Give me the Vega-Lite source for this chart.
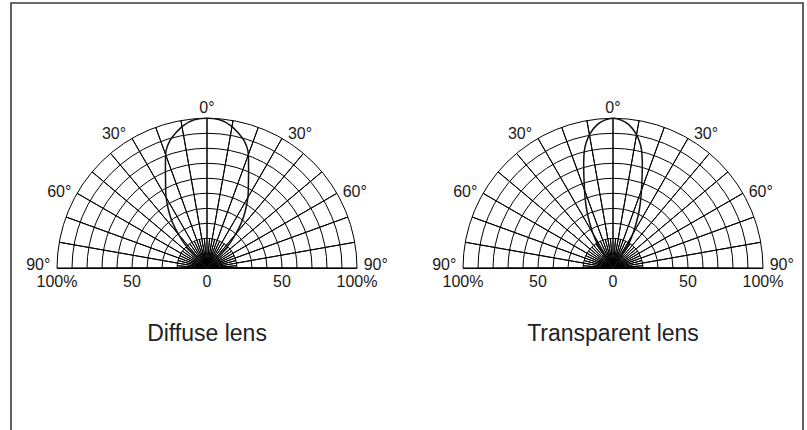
{
  "$schema": "https://vega.github.io/schema/vega-lite/v6.json",
  "width": 792,
  "height": 440,
  "autosize": {"type": "none"},
  "padding": {"left": 11, "top": 3, "right": 4, "bottom": 0},
  "background": "white",
  "config": {
    "view": {"stroke": "#3a3a3a", "strokeWidth": 1.6},
    "text": {"font": "Liberation Sans"}
  },
  "encoding": {
    "x": {"field": "lens", "type": "nominal", "scale": {"type": "point", "domain": ["Diffuse lens", "Transparent lens"], "range": [196, 602], "padding": 0}, "axis": null}
  },
  "layer": [
    {
      "data": {"values": [
        {"r": 10, "lens": ["Diffuse lens", "Transparent lens"]},
        {"r": 20, "lens": ["Diffuse lens", "Transparent lens"]},
        {"r": 30, "lens": ["Diffuse lens", "Transparent lens"]},
        {"r": 40, "lens": ["Diffuse lens", "Transparent lens"]},
        {"r": 50, "lens": ["Diffuse lens", "Transparent lens"]},
        {"r": 60, "lens": ["Diffuse lens", "Transparent lens"]},
        {"r": 70, "lens": ["Diffuse lens", "Transparent lens"]},
        {"r": 80, "lens": ["Diffuse lens", "Transparent lens"]},
        {"r": 90, "lens": ["Diffuse lens", "Transparent lens"]},
        {"r": 100, "lens": ["Diffuse lens", "Transparent lens"]}
      ]},
      "transform": [{"flatten": ["lens"]}],
      "mark": {"type": "arc", "filled": false, "stroke": "black", "strokeWidth": 1},
      "encoding": {
        "y": {"datum": 0, "type": "quantitative", "scale": {"domain": [-116.5, 176.9], "nice": false, "zero": false}, "axis": null},
        "theta": {"datum": -90, "type": "quantitative", "scale": {"domain": [-90, 90], "range": [-1.5707963, 1.5707963]}},
        "theta2": {"datum": 90},
        "radius": {"field": "r", "type": "quantitative", "scale": {"type": "linear", "domain": [0, 100], "range": [0, 150], "zero": true}},
        "radius2": {"datum": 0}
      }
    },
    {
      "data": {"values": [
        {"a": -90, "lens": ["Diffuse lens", "Transparent lens"]},
        {"a": -80, "lens": ["Diffuse lens", "Transparent lens"]},
        {"a": -70, "lens": ["Diffuse lens", "Transparent lens"]},
        {"a": -60, "lens": ["Diffuse lens", "Transparent lens"]},
        {"a": -50, "lens": ["Diffuse lens", "Transparent lens"]},
        {"a": -40, "lens": ["Diffuse lens", "Transparent lens"]},
        {"a": -30, "lens": ["Diffuse lens", "Transparent lens"]},
        {"a": -20, "lens": ["Diffuse lens", "Transparent lens"]},
        {"a": -10, "lens": ["Diffuse lens", "Transparent lens"]},
        {"a": 0, "lens": ["Diffuse lens", "Transparent lens"]},
        {"a": 10, "lens": ["Diffuse lens", "Transparent lens"]},
        {"a": 20, "lens": ["Diffuse lens", "Transparent lens"]},
        {"a": 30, "lens": ["Diffuse lens", "Transparent lens"]},
        {"a": 40, "lens": ["Diffuse lens", "Transparent lens"]},
        {"a": 50, "lens": ["Diffuse lens", "Transparent lens"]},
        {"a": 60, "lens": ["Diffuse lens", "Transparent lens"]},
        {"a": 70, "lens": ["Diffuse lens", "Transparent lens"]},
        {"a": 80, "lens": ["Diffuse lens", "Transparent lens"]},
        {"a": 90, "lens": ["Diffuse lens", "Transparent lens"]}
      ]},
      "transform": [{"flatten": ["lens"]}],
      "mark": {"type": "arc", "filled": false, "stroke": "black", "strokeWidth": 1},
      "encoding": {
        "y": {"datum": 0, "type": "quantitative", "scale": {"domain": [-116.5, 176.9], "nice": false, "zero": false}, "axis": null},
        "theta": {"field": "a", "type": "quantitative", "stack": null, "scale": {"domain": [-90, 90], "range": [-1.5707963, 1.5707963]}},
        "theta2": {"field": "a"},
        "radius": {"datum": 100, "type": "quantitative", "scale": {"type": "linear", "domain": [0, 100], "range": [0, 150], "zero": true}},
        "radius2": {"datum": 0}
      }
    },
    {
      "data": {"values": [
        {"a": -85, "lens": ["Diffuse lens", "Transparent lens"]},
        {"a": -75, "lens": ["Diffuse lens", "Transparent lens"]},
        {"a": -65, "lens": ["Diffuse lens", "Transparent lens"]},
        {"a": -55, "lens": ["Diffuse lens", "Transparent lens"]},
        {"a": -45, "lens": ["Diffuse lens", "Transparent lens"]},
        {"a": -35, "lens": ["Diffuse lens", "Transparent lens"]},
        {"a": -25, "lens": ["Diffuse lens", "Transparent lens"]},
        {"a": -15, "lens": ["Diffuse lens", "Transparent lens"]},
        {"a": -5, "lens": ["Diffuse lens", "Transparent lens"]},
        {"a": 5, "lens": ["Diffuse lens", "Transparent lens"]},
        {"a": 15, "lens": ["Diffuse lens", "Transparent lens"]},
        {"a": 25, "lens": ["Diffuse lens", "Transparent lens"]},
        {"a": 35, "lens": ["Diffuse lens", "Transparent lens"]},
        {"a": 45, "lens": ["Diffuse lens", "Transparent lens"]},
        {"a": 55, "lens": ["Diffuse lens", "Transparent lens"]},
        {"a": 65, "lens": ["Diffuse lens", "Transparent lens"]},
        {"a": 75, "lens": ["Diffuse lens", "Transparent lens"]},
        {"a": 85, "lens": ["Diffuse lens", "Transparent lens"]}
      ]},
      "transform": [{"flatten": ["lens"]}],
      "mark": {"type": "arc", "filled": false, "stroke": "black", "strokeWidth": 1},
      "encoding": {
        "y": {"datum": 0, "type": "quantitative", "scale": {"domain": [-116.5, 176.9], "nice": false, "zero": false}, "axis": null},
        "theta": {"field": "a", "type": "quantitative", "stack": null, "scale": {"domain": [-90, 90], "range": [-1.5707963, 1.5707963]}},
        "theta2": {"field": "a"},
        "radius": {"datum": 20, "type": "quantitative", "scale": {"type": "linear", "domain": [0, 100], "range": [0, 150], "zero": true}},
        "radius2": {"datum": 0}
      }
    },
    {
      "data": {"values": [
        {"lens": "Diffuse lens", "i": 0, "dx": 0, "dy": 0},
        {"lens": "Diffuse lens", "i": 1, "dx": -5, "dy": 5.2},
        {"lens": "Diffuse lens", "i": 2, "dx": -10.5, "dy": 11},
        {"lens": "Diffuse lens", "i": 3, "dx": -15, "dy": 16.3},
        {"lens": "Diffuse lens", "i": 4, "dx": -18.8, "dy": 22.2},
        {"lens": "Diffuse lens", "i": 5, "dx": -22.9, "dy": 30.3},
        {"lens": "Diffuse lens", "i": 6, "dx": -25.4, "dy": 37.7},
        {"lens": "Diffuse lens", "i": 7, "dx": -27.3, "dy": 47.6},
        {"lens": "Diffuse lens", "i": 8, "dx": -27.6, "dy": 56.6},
        {"lens": "Diffuse lens", "i": 9, "dx": -27.7, "dy": 68.6},
        {"lens": "Diffuse lens", "i": 10, "dx": -27.2, "dy": 78.8},
        {"lens": "Diffuse lens", "i": 11, "dx": -24.8, "dy": 85},
        {"lens": "Diffuse lens", "i": 12, "dx": -20.9, "dy": 90.2},
        {"lens": "Diffuse lens", "i": 13, "dx": -15.8, "dy": 95.2},
        {"lens": "Diffuse lens", "i": 14, "dx": -8.5, "dy": 99},
        {"lens": "Diffuse lens", "i": 15, "dx": 0, "dy": 100},
        {"lens": "Diffuse lens", "i": 16, "dx": 8.5, "dy": 99},
        {"lens": "Diffuse lens", "i": 17, "dx": 15.8, "dy": 95.2},
        {"lens": "Diffuse lens", "i": 18, "dx": 20.9, "dy": 90.2},
        {"lens": "Diffuse lens", "i": 19, "dx": 24.8, "dy": 85},
        {"lens": "Diffuse lens", "i": 20, "dx": 27.2, "dy": 78.8},
        {"lens": "Diffuse lens", "i": 21, "dx": 27.7, "dy": 68.6},
        {"lens": "Diffuse lens", "i": 22, "dx": 27.6, "dy": 56.6},
        {"lens": "Diffuse lens", "i": 23, "dx": 27.3, "dy": 47.6},
        {"lens": "Diffuse lens", "i": 24, "dx": 25.4, "dy": 37.7},
        {"lens": "Diffuse lens", "i": 25, "dx": 22.9, "dy": 30.3},
        {"lens": "Diffuse lens", "i": 26, "dx": 18.8, "dy": 22.2},
        {"lens": "Diffuse lens", "i": 27, "dx": 15, "dy": 16.3},
        {"lens": "Diffuse lens", "i": 28, "dx": 10.5, "dy": 11},
        {"lens": "Diffuse lens", "i": 29, "dx": 5, "dy": 5.2},
        {"lens": "Diffuse lens", "i": 30, "dx": 0, "dy": 0},
        {"lens": "Transparent lens", "i": 0, "dx": 0, "dy": 0},
        {"lens": "Transparent lens", "i": 1, "dx": -5.5, "dy": 8.5},
        {"lens": "Transparent lens", "i": 2, "dx": -10.5, "dy": 16.5},
        {"lens": "Transparent lens", "i": 3, "dx": -13.3, "dy": 23},
        {"lens": "Transparent lens", "i": 4, "dx": -15.6, "dy": 30.5},
        {"lens": "Transparent lens", "i": 5, "dx": -17.5, "dy": 38.7},
        {"lens": "Transparent lens", "i": 6, "dx": -18.6, "dy": 47},
        {"lens": "Transparent lens", "i": 7, "dx": -19.2, "dy": 56.4},
        {"lens": "Transparent lens", "i": 8, "dx": -19.5, "dy": 65},
        {"lens": "Transparent lens", "i": 9, "dx": -19.5, "dy": 72},
        {"lens": "Transparent lens", "i": 10, "dx": -19, "dy": 79},
        {"lens": "Transparent lens", "i": 11, "dx": -17.8, "dy": 84},
        {"lens": "Transparent lens", "i": 12, "dx": -15.3, "dy": 89.8},
        {"lens": "Transparent lens", "i": 13, "dx": -10.5, "dy": 95.8},
        {"lens": "Transparent lens", "i": 14, "dx": -5.5, "dy": 98.8},
        {"lens": "Transparent lens", "i": 15, "dx": 0, "dy": 100},
        {"lens": "Transparent lens", "i": 16, "dx": 5.5, "dy": 98.8},
        {"lens": "Transparent lens", "i": 17, "dx": 10.5, "dy": 95.8},
        {"lens": "Transparent lens", "i": 18, "dx": 15.3, "dy": 89.8},
        {"lens": "Transparent lens", "i": 19, "dx": 17.8, "dy": 84},
        {"lens": "Transparent lens", "i": 20, "dx": 19, "dy": 79},
        {"lens": "Transparent lens", "i": 21, "dx": 19.5, "dy": 72},
        {"lens": "Transparent lens", "i": 22, "dx": 19.5, "dy": 65},
        {"lens": "Transparent lens", "i": 23, "dx": 19.2, "dy": 56.4},
        {"lens": "Transparent lens", "i": 24, "dx": 18.6, "dy": 47},
        {"lens": "Transparent lens", "i": 25, "dx": 17.5, "dy": 38.7},
        {"lens": "Transparent lens", "i": 26, "dx": 15.6, "dy": 30.5},
        {"lens": "Transparent lens", "i": 27, "dx": 13.3, "dy": 23},
        {"lens": "Transparent lens", "i": 28, "dx": 10.5, "dy": 16.5},
        {"lens": "Transparent lens", "i": 29, "dx": 5.5, "dy": 8.5},
        {"lens": "Transparent lens", "i": 30, "dx": 0, "dy": 0}
      ]},
      "mark": {"type": "line", "color": "#111111", "strokeWidth": 1.5, "interpolate": "catmull-rom"},
      "encoding": {
        "xOffset": {"field": "dx", "type": "quantitative", "scale": {"type": "linear", "domain": [-100, 100], "range": [-150, 150], "zero": false, "nice": false}},
        "y": {"field": "dy", "type": "quantitative", "scale": {"domain": [-116.5, 176.9], "nice": false, "zero": false}, "axis": null},
        "detail": {"field": "lens"},
        "order": {"field": "i", "type": "quantitative"}
      }
    },
    {
      "data": {"values": [
        {"t": "0°", "dx": 0, "dy": 106.7, "lens": ["Diffuse lens", "Transparent lens"]},
        {"t": "30°", "dx": -62, "dy": 89.3, "lens": ["Diffuse lens", "Transparent lens"]},
        {"t": "30°", "dx": 62, "dy": 89.3, "lens": ["Diffuse lens", "Transparent lens"]},
        {"t": "60°", "dx": -98.5, "dy": 51, "lens": ["Diffuse lens", "Transparent lens"]},
        {"t": "60°", "dx": 98.5, "dy": 51, "lens": ["Diffuse lens", "Transparent lens"]},
        {"t": "90°", "dx": -112.5, "dy": 2.2, "lens": ["Diffuse lens", "Transparent lens"]},
        {"t": "90°", "dx": 112.5, "dy": 2.2, "lens": ["Diffuse lens", "Transparent lens"]},
        {"t": "100%", "dx": -100, "dy": -8.9, "lens": ["Diffuse lens", "Transparent lens"]},
        {"t": "50", "dx": -50, "dy": -8.9, "lens": ["Diffuse lens", "Transparent lens"]},
        {"t": "0", "dx": 0, "dy": -8.9, "lens": ["Diffuse lens", "Transparent lens"]},
        {"t": "50", "dx": 50, "dy": -8.9, "lens": ["Diffuse lens", "Transparent lens"]},
        {"t": "100%", "dx": 100, "dy": -8.9, "lens": ["Diffuse lens", "Transparent lens"]}
      ]},
      "transform": [{"flatten": ["lens"]}],
      "mark": {"type": "text", "fontSize": 16, "color": "#1a1a1a", "align": "center", "baseline": "middle"},
      "encoding": {
        "xOffset": {"field": "dx", "type": "quantitative", "scale": {"type": "linear", "domain": [-100, 100], "range": [-150, 150], "zero": false, "nice": false}},
        "y": {"field": "dy", "type": "quantitative", "scale": {"domain": [-116.5, 176.9], "nice": false, "zero": false}, "axis": null},
        "text": {"field": "t"}
      }
    },
    {
      "data": {"values": [
        {"lens": "Diffuse lens"},
        {"lens": "Transparent lens"}
      ]},
      "mark": {"type": "text", "fontSize": 23, "color": "#222222", "align": "center", "baseline": "middle"},
      "encoding": {
        "y": {"datum": -43.5, "type": "quantitative", "scale": {"domain": [-116.5, 176.9], "nice": false, "zero": false}, "axis": null},
        "text": {"field": "lens"}
      }
    }
  ]
}
